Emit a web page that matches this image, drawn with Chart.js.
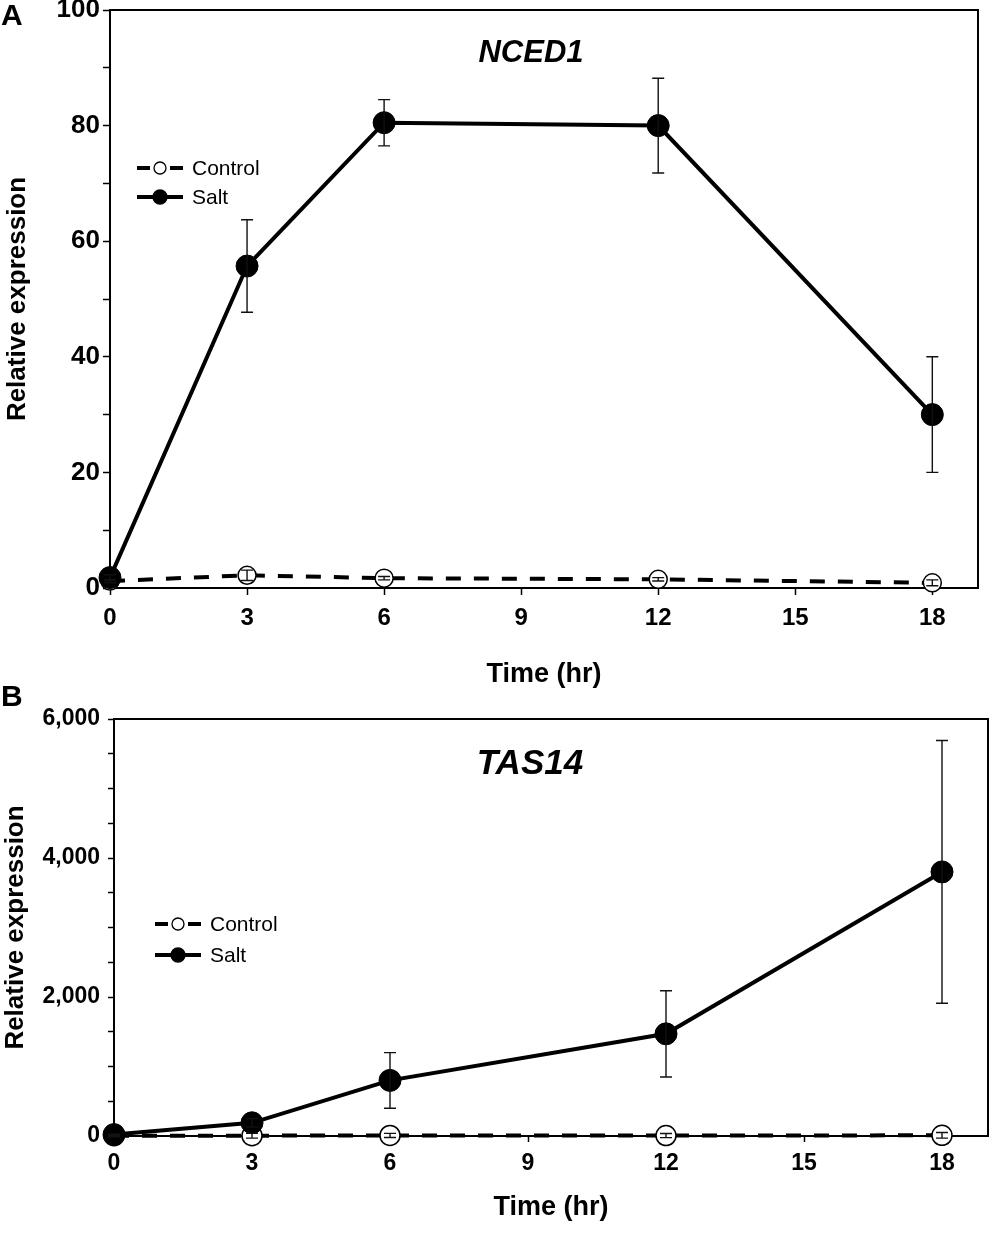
<!DOCTYPE html>
<html>
<head>
<meta charset="utf-8">
<script src="https://cdn.jsdelivr.net/npm/chart.js@4.4.1/dist/chart.umd.min.js"></script>
<style>
  html, body { margin: 0; padding: 0; background: #fff; }
  body { width: 990px; height: 1239px; position: relative; overflow: hidden; }
  canvas { position: absolute; left: 0; }
  #chartA { top: 0; }
  #chartB { top: 680px; }
</style>
</head>
<body>
<canvas id="chartA" width="990" height="700"></canvas>
<canvas id="chartB" width="990" height="559"></canvas>
<script>
// ── Data ──────────────────────────────────────────────────────────────────────
const hours       = [0, 3, 6, 12, 18];
const xTickValues = [0, 3, 6, 9, 12, 15, 18];

// Panel A: NCED1
const nced1Control    = [1.2, 2.2, 1.7, 1.5, 0.9];
const nced1ControlErr = [0.3, 0.9, 0.3, 0.3, 0.5];
const nced1Salt       = [1.8, 55.7, 80.5, 80.0, 30.0];
const nced1SaltErr    = [0.5, 8.0, 4.0, 8.2, 10.0];
const nced1YTicks     = [0, 10, 20, 30, 40, 50, 60, 70, 80, 90, 100];
const nced1YLabelled  = [0, 20, 40, 60, 80, 100];

// Panel B: TAS14
const tas14Control    = [5, 5, 8, 6, 10];
const tas14ControlErr = [15, 35, 30, 30, 40];
const tas14Salt       = [20, 190, 800, 1470, 3800];
const tas14SaltErr    = [10, 60, 400, 620, 1890];
const tas14YTicks     = [0, 500, 1000, 1500, 2000, 2500, 3000, 3500, 4000, 4500, 5000, 5500, 6000];
const tas14YLabelled  = [0, 2000, 4000, 6000];

const FONT = '"Liberation Sans", Arial, Helvetica, sans-serif';

const withCommas = v => String(v).replace(/\B(?=(\d{3})+(?!\d))/g, ",");

// ── Plugin: frame, error bars, gene title, panel letter, legend ───────────────
const decorPlugin = {
    id: "decor",
    beforeDatasetsDraw(chart) {
        const { ctx, chartArea: a } = chart;
        ctx.save();
        ctx.strokeStyle = "#000";
        ctx.lineWidth = 2;
        ctx.strokeRect(a.left, a.top, a.right - a.left, a.bottom - a.top);
        ctx.restore();
    },
    afterDatasetsDraw(chart, args, opts) {
        const ctx = chart.ctx;
        const yScale = chart.scales.y;
        chart.data.datasets.forEach((ds, i) => {
            if (!ds.errors) return;
            const meta = chart.getDatasetMeta(i);
            ctx.save();
            ctx.strokeStyle = "#111";
            ctx.lineWidth = 1.4;
            meta.data.forEach((pt, j) => {
                const e = ds.errors[j];
                if (!e) return;
                const v = ds.data[j].y;
                const yTop = yScale.getPixelForValue(v + e);
                const yBot = yScale.getPixelForValue(v - e);
                ctx.beginPath();
                ctx.moveTo(pt.x, yTop); ctx.lineTo(pt.x, yBot);
                ctx.moveTo(pt.x - opts.cap, yTop); ctx.lineTo(pt.x + opts.cap, yTop);
                ctx.moveTo(pt.x - opts.cap, yBot); ctx.lineTo(pt.x + opts.cap, yBot);
                ctx.stroke();
            });
            ctx.restore();
        });
    },
    afterDraw(chart, args, opts) {
        const { ctx } = chart;
        ctx.save();
        ctx.fillStyle = "#000";
        ctx.textBaseline = "middle";

        // panel letter
        ctx.textAlign = "left";
        ctx.font = `bold ${opts.panel.size}px ${FONT}`;
        ctx.fillText(opts.panel.text, opts.panel.x, opts.panel.y);

        // gene title
        ctx.textAlign = "center";
        ctx.font = `italic bold ${opts.gene.size}px ${FONT}`;
        ctx.fillText(opts.gene.text, opts.gene.x, opts.gene.y);

        // legend
        const lg = opts.legend;
        ctx.textAlign = "left";
        ctx.font = `${lg.size}px ${FONT}`;
        chart.data.datasets.forEach((ds, i) => {
            const y = lg.y + i * lg.gap;
            const x0 = lg.x;
            const dashed = ds.borderDash && ds.borderDash.length;
            ctx.strokeStyle = "#000";
            ctx.lineWidth = 4;
            ctx.beginPath();
            if (dashed) {
                ctx.moveTo(x0, y); ctx.lineTo(x0 + 13, y);
                ctx.moveTo(x0 + 33, y); ctx.lineTo(x0 + 46, y);
            } else {
                ctx.moveTo(x0, y); ctx.lineTo(x0 + 46, y);
            }
            ctx.stroke();
            ctx.beginPath();
            ctx.arc(x0 + 23, y, dashed ? 6 : 7, 0, Math.PI * 2);
            ctx.fillStyle = ds.pointBackgroundColor;
            ctx.fill();
            ctx.lineWidth = 1.3;
            ctx.stroke();
            ctx.fillStyle = "#000";
            ctx.fillText(ds.label, x0 + lg.textOffset, y + 1);
        });
        ctx.restore();
    }
};

// ── Chart builder ─────────────────────────────────────────────────────────────
function buildChart(id, o) {
    return new Chart(document.getElementById(id), {
        type: "line",
        data: {
            datasets: [
                {
                    label: "Control",
                    data: hours.map((h, i) => ({ x: h, y: o.control[i] })),
                    errors: o.controlErr,
                    borderColor: "#000",
                    borderWidth: 4,
                    borderDash: [15, 13],
                    pointRadius: o.ctrlRadius,
                    pointBackgroundColor: "#fff",
                    pointBorderColor: "#000",
                    pointBorderWidth: 1.5,
                    tension: 0,
                    clip: false,
                    order: 1
                },
                {
                    label: "Salt",
                    data: hours.map((h, i) => ({ x: h, y: o.salt[i] })),
                    errors: o.saltErr,
                    borderColor: "#000",
                    borderWidth: 4,
                    pointRadius: 11,
                    pointBackgroundColor: "#000",
                    pointBorderColor: "#000",
                    pointBorderWidth: 1,
                    tension: 0,
                    clip: false,
                    order: 0
                }
            ]
        },
        options: {
            responsive: false,
            animation: false,
            devicePixelRatio: 1,
            layout: { padding: o.padding, autoPadding: false },
            plugins: {
                legend: { display: false },
                tooltip: { enabled: false },
                decor: { cap: 6, panel: o.panel, gene: o.gene, legend: o.legend }
            },
            scales: {
                x: {
                    type: "linear",
                    min: 0,
                    max: 19,
                    afterBuildTicks: s => { s.ticks = xTickValues.map(v => ({ value: v })); },
                    afterFit: s => { s.height = o.xHeight; s.paddingLeft = 0; s.paddingRight = 0; },
                    border: { display: false },
                    grid: { drawOnChartArea: false, drawTicks: true, tickLength: o.xTickLen, tickColor: "#000", tickWidth: 1.5 },
                    ticks: {
                        color: "#000",
                        autoSkip: false,
                        maxRotation: 0,
                        padding: o.xTickPad,
                        font: { family: FONT, size: o.xTickSize, weight: "bold" }
                    },
                    title: {
                        display: true,
                        text: "Time (hr)",
                        color: "#000",
                        font: { family: FONT, size: 27, weight: "bold" },
                        padding: { top: 0, bottom: o.xTitlePad }
                    }
                },
                y: {
                    min: 0,
                    max: o.yTicks[o.yTicks.length - 1],
                    afterBuildTicks: s => { s.ticks = o.yTicks.map(v => ({ value: v })); },
                    afterFit: s => { s.width = o.yWidth; s.paddingTop = 0; s.paddingBottom = 0; },
                    border: { display: false },
                    grid: { drawOnChartArea: false, drawTicks: true, tickLength: o.yTickLen, tickColor: "#000", tickWidth: 1.5 },
                    ticks: {
                        color: "#000",
                        autoSkip: false,
                        padding: o.yTickPad,
                        font: { family: FONT, size: o.yTickSize, weight: "bold" },
                        callback: v => (o.yLabelled.includes(v) ? withCommas(v) : "")
                    },
                    title: {
                        display: true,
                        text: "Relative expression",
                        color: "#000",
                        font: { family: FONT, size: 26, weight: "bold" },
                        padding: { top: o.yTitlePad, bottom: 0 }
                    }
                }
            }
        },
        plugins: [decorPlugin]
    });
}

// ── Panel A ───────────────────────────────────────────────────────────────────
buildChart("chartA", {
    control: nced1Control, controlErr: nced1ControlErr,
    salt: nced1Salt, saltErr: nced1SaltErr,
    yTicks: nced1YTicks, yLabelled: nced1YLabelled,
    ctrlRadius: 9,
    padding: { top: 10, right: 12, bottom: 0, left: 0 },
    xHeight: 112, xTickLen: 7, xTickPad: 9, xTickSize: 24, xTitlePad: 9,
    yWidth: 110, yTickLen: 7, yTickPad: 3, yTickSize: 26, yTitlePad: 2,
    panel: { text: "A", x: 1, y: 17, size: 30 },
    gene: { text: "NCED1", x: 531, y: 53, size: 31 },
    legend: { x: 137, y: 168, gap: 29, size: 21, textOffset: 55 }
});

// ── Panel B ───────────────────────────────────────────────────────────────────
buildChart("chartB", {
    control: tas14Control, controlErr: tas14ControlErr,
    salt: tas14Salt, saltErr: tas14SaltErr,
    yTicks: tas14YTicks, yLabelled: tas14YLabelled,
    ctrlRadius: 10,
    padding: { top: 39, right: 2, bottom: 0, left: 0 },
    xHeight: 103, xTickLen: 6, xTickPad: 8, xTickSize: 23, xTitlePad: 15,
    yWidth: 114, yTickLen: 6, yTickPad: 8, yTickSize: 23, yTitlePad: 0,
    panel: { text: "B", x: 1, y: 18, size: 30 },
    gene: { text: "TAS14", x: 530, y: 84, size: 35 },
    legend: { x: 155, y: 244, gap: 31, size: 21, textOffset: 55 }
});
</script>
</body>
</html>
